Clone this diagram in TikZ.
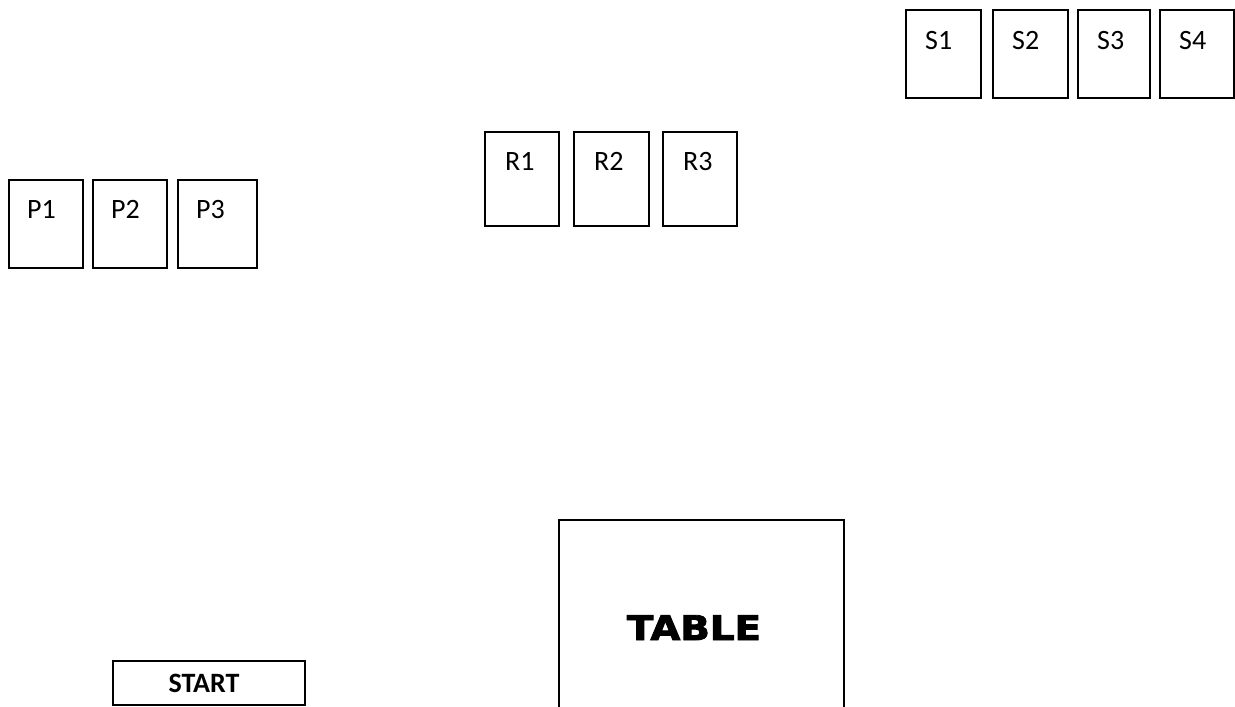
\documentclass[tikz,border=0pt]{standalone}
\usepackage{fontspec}
\setmainfont{Carlito}
\newfontfamily\tablefont[FakeBold=2.5]{DejaVu Sans Bold}
\usetikzlibrary{calc}
\tikzset{card/.style = {draw, line width=2pt, rectangle, inner sep=0, anchor=north west}}
\tikzset{tag/.style = {anchor=base west, inner sep=0, font=\fontsize{28}{34}\selectfont}}

\begin{document}
\begin{tikzpicture}[x=1pt,y=-1pt]
    \useasboundingbox (0,0) rectangle (1235,707);
    % top right row
    \foreach \name/\x/\w in {S1/905/75, S2/992/75, S3/1077/72, S4/1159/74} {
        \node[card, minimum width=\w, minimum height=88] (\name) at (\x,9) {};
        \node[tag] (\name-t) at ($(\name.north west)+(20,40)$) {\name};
    }
    % middle row
    \foreach \name/\x/\w in {R1/484/74, R2/573/75, R3/662/74} {
        \node[card, minimum width=\w, minimum height=94] (\name) at (\x,131) {};
        \node[tag] (\name-t) at ($(\name.north west)+(21,39)$) {\name};
    }
    % left row
    \foreach \name/\x/\w in {P1/8/74, P2/92/74, P3/177/79} {
        \node[card, minimum width=\w, minimum height=88] (\name) at (\x,179) {};
        \node[tag] (\name-t) at ($(\name.north west)+(19,39)$) {\name};
    }
    \node[card, minimum width=192, minimum height=44] (start) at (112,660) {};
    \node[tag, anchor=base, font=\fontsize{28}{34}\selectfont\bfseries] (start-t) at ($(start.north)+(-5,32)$) {START};
    \node[card, minimum width=285, minimum height=200] (table) at (558,519) {};
    \node[anchor=base, inner sep=0] (table-t) at (694,640) {\scalebox{1.14}[1]{\fontsize{34}{40}\tablefont TABLE}};
\end{tikzpicture}
\end{document}
